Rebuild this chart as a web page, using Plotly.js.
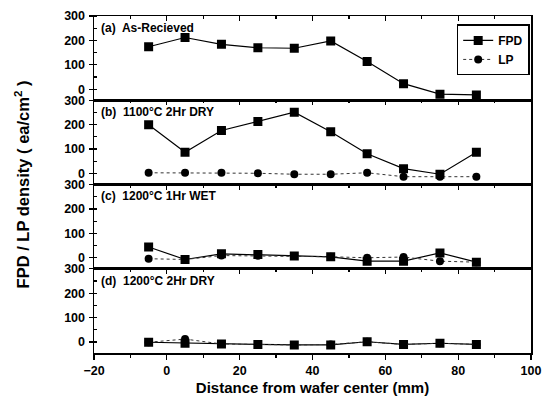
<!DOCTYPE html>
<html>
<head>
<meta charset="utf-8">
<script src="https://cdn.plot.ly/plotly-3.0.1.min.js"></script>
<style>html,body{margin:0;padding:0;background:#fff;}#chart{width:546px;height:403px;}</style>
</head>
<body>
<div id="chart"></div>
<script>
// Distance from wafer center (mm)
const xs = [-5, 5, 15, 25, 35, 45, 55, 65, 75, 85];
// (a) As-Recieved
const fpdA = [174, 212, 184, 170, 168, 198, 114, 23, -20, -23];
// (b) 1100°C 2Hr DRY
const fpdB = [200, 87, 176, 213, 251, 171, 81, 20, -3, 87];
const lpB  = [3, 3, 3, 1, -3, -3, 3, -13, -13, -13];
// (c) 1200°C 1Hr WET
const fpdC = [44, -7, 16, 13, 7, 4, -14, -14, 20, -18];
const lpC  = [-4, -7, 9, 8, 7, 4, 0, 3, -14, -18];
// (d) 1200°C 2Hr DRY
const fpdD = [-1, -5, -8, -10, -12, -12, 1, -10, -5, -10];
const lpD  = [-1, 12, -8, -10, -12, -10, 1, -10, -5, -10];

const panelLabels = ["(a)  As-Recieved", "(b)  1100°C 2Hr DRY", "(c)  1200°C 1Hr WET", "(d)  1200°C 2Hr DRY"];
const seriesNames = ["FPD", "LP"];

const FONT = "Arial, 'Liberation Sans', sans-serif";
const fpdStyle = {mode: "lines+markers", line: {color: "#000", width: 1.2}, marker: {symbol: "square", size: 9, color: "#000"}};
const lpStyle = {mode: "lines+markers", line: {color: "#333", width: 1, dash: "dot"}, marker: {symbol: "circle", size: 8, color: "#000"}};

function tr(y, style, name, xa, ya, show) {
  return Object.assign({x: xs, y: y, name: name, xaxis: xa, yaxis: ya, showlegend: show, hoverinfo: "none"}, style);
}

const data = [
  tr(fpdA, fpdStyle, seriesNames[0], "x", "y", true),
  tr(fpdB, fpdStyle, seriesNames[0], "x2", "y2", false),
  tr(lpB, lpStyle, seriesNames[1], "x2", "y2", true),
  tr(fpdC, fpdStyle, seriesNames[0], "x3", "y3", false),
  tr(lpC, lpStyle, seriesNames[1], "x3", "y3", false),
  tr(fpdD, fpdStyle, seriesNames[0], "x4", "y4", false),
  tr(lpD, lpStyle, seriesNames[1], "x4", "y4", false),
  {x: [], y: [], xaxis: "x5", yaxis: "y4", showlegend: false, hoverinfo: "none", mode: "markers"}
];

const tickFont = {family: FONT, size: 12.5, color: "#000", weight: "bold"};

function xax(anchor, extra) {
  return Object.assign({
    anchor: anchor, range: [-20, 100], dtick: 20, tick0: -20,
    showline: true, linecolor: "#000", linewidth: 1.5, mirror: true,
    ticks: "inside", ticklen: 5, tickwidth: 1.2, tickcolor: "#000",
    minor: {dtick: 10, ticks: "inside", ticklen: 3, tickcolor: "#000"},
    showticklabels: false, showgrid: false, zeroline: false, side: "top",
    tickfont: tickFont
  }, extra || {});
}
function yax(domain, anchor) {
  return {
    domain: domain, anchor: anchor, range: [-45, 300], tick0: 0, dtick: 100,
    showline: true, linecolor: "#000", linewidth: 1.5, mirror: true,
    ticks: "outside", ticklen: 4, tickwidth: 1.2, tickcolor: "#000",
    minor: {dtick: 50, ticks: "inside", ticklen: 3, tickcolor: "#000"},
    showgrid: false, zeroline: false, tickfont: tickFont, ticklabelstandoff: 1
  };
}

const labelY = [0.965, 0.715, 0.465, 0.215];
const annotations = panelLabels.map((t, i) => ({
  text: t, xref: "paper", yref: "paper", x: 0.012, y: labelY[i],
  xanchor: "left", yanchor: "middle", showarrow: false,
  font: {family: FONT, size: 12, color: "#000", weight: "bold"}
}));
annotations.push({
  text: "FPD / LP density ( ea/cm<sup>2</sup> )", xref: "paper", yref: "paper",
  x: -0.165, y: 0.5, textangle: -90, showarrow: false, xanchor: "center", yanchor: "middle",
  font: {family: FONT, size: 16.5, color: "#000", weight: "bold"}
});

const layout = {
  width: 546, height: 403,
  margin: {l: 94, r: 15, t: 16, b: 50},
  paper_bgcolor: "#fff", plot_bgcolor: "#fff",
  showlegend: true,
  legend: {
    x: 0.997, xanchor: "right", y: 0.975, yanchor: "top",
    bordercolor: "#000", borderwidth: 1.5, bgcolor: "#fff",
    font: {family: FONT, size: 12, color: "#000", weight: "bold"},
    itemwidth: 30, tracegroupgap: 0
  },
  xaxis: xax("y"),
  xaxis2: xax("y2", {matches: "x"}),
  xaxis3: xax("y3", {matches: "x"}),
  xaxis4: xax("y4", {matches: "x"}),
  xaxis5: xax("y4", {overlaying: "x4", side: "bottom", ticks: "outside", mirror: false,
    showticklabels: true, minor: {dtick: 10, ticks: "outside", ticklen: 3, tickcolor: "#000"},
    title: {text: "Distance from wafer center (mm)", font: {family: FONT, size: 15, color: "#000", weight: "bold"}, standoff: 6}}),
  yaxis: yax([0.75, 1], "x"),
  yaxis2: yax([0.5, 0.75], "x2"),
  yaxis3: yax([0.25, 0.5], "x3"),
  yaxis4: yax([0, 0.25], "x4"),
  annotations: annotations
};

Plotly.newPlot("chart", data, layout, {displayModeBar: false, staticPlot: true});
</script>
</body>
</html>
